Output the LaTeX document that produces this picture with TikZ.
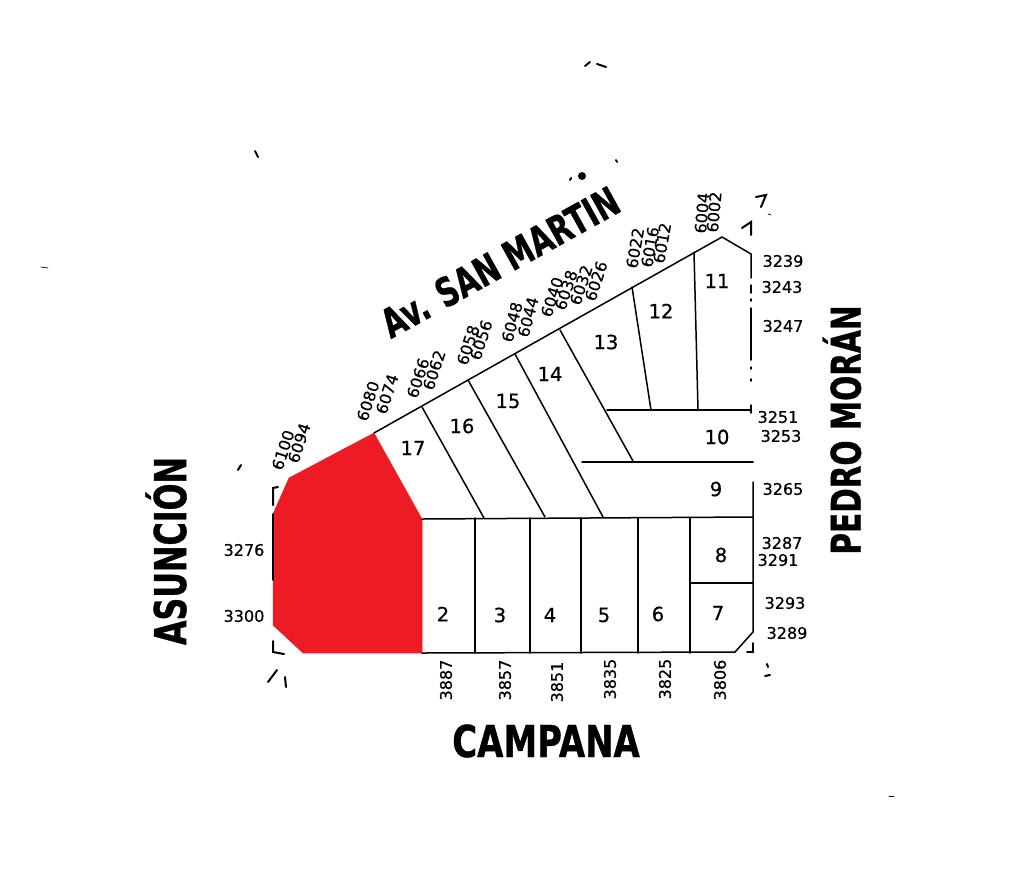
\documentclass[tikz,border=0pt]{standalone}
\usepackage{fontspec}
\setmainfont[FakeBold=.5]{DejaVu Sans}
\newfontfamily\streetfont[FakeStretch=.72,FakeBold=.8]{DejaVu Sans}
\definecolor{lotred}{HTML}{ED1C24}
\tikzset{
  lotline/.style={line width=1.5pt, line cap=round},
  speck/.style={line width=2pt, line cap=round},
  lotnum/.style={font=\fontsize{19.5}{20}\selectfont, inner sep=0pt},
  doornum/.style={font=\fontsize{16}{16}\selectfont, inner sep=0pt},
  street/.style={font=\streetfont\bfseries\fontsize{44}{44}\selectfont, inner sep=0pt},
}

\begin{document}
\begin{tikzpicture}[x=1pt, y=-1pt]
  \useasboundingbox (0,0) rectangle (1030,879);

  % corners of the block
  \coordinate (a) at (273,514);
  \coordinate (b) at (289,478);
  \coordinate (c) at (374,433);
  \coordinate (d) at (422,519);
  \coordinate (e) at (422,653);
  \coordinate (f) at (303,653);
  \coordinate (g) at (273,625);
  \coordinate (peak) at (722,237);
  \coordinate (ne) at (751,254);
  \coordinate (se) at (753,632);
  \coordinate (sc) at (735,652);
  \coordinate (r9) at (753,517);
  \coordinate (top10l) at (607,410);
  \coordinate (top10r) at (751,410);
  \coordinate (top9l) at (582,462);
  \coordinate (top9r) at (753,462);
  \coordinate (mid78l) at (691,583);
  \coordinate (mid78r) at (753,583);

  % lot lines
  \filldraw[fill=lotred, draw=lotred, line width=.5pt] (a) -- (b) -- (c) -- (d) -- (e) -- (f) -- (g) -- cycle;
  \draw[lotline] (a) -- (273,580);
  \draw[lotline] (c) -- (peak) -- (ne) -- (751,278);
  \draw[lotline] (751,285) -- (751,293) (751,299) -- (751,301);
  \draw[lotline] (751,308) -- (751,360);
  \draw[lotline] (751,367) -- (751,369) (751,379) -- (751,381);
  \draw[lotline] (751,405) -- (751,413);
  \draw[lotline] (753,482) -- (se) -- (sc) -- (e);
  \draw[lotline] (d) -- (r9);
  \draw[lotline] (top10l) -- (top10r);
  \draw[lotline] (top9l) -- (top9r);
  \draw[lotline] (mid78l) -- (mid78r);
  \draw[lotline] (422,407) -- (484,518);
  \draw[lotline] (468,380) -- (545,517);
  \draw[lotline] (515,354) -- (603,517);
  \draw[lotline] (560,330) -- (633,461);
  \draw[lotline] (632,287) -- (651,410);
  \draw[lotline] (694,252) -- (698,410);
  \foreach \px in {475,530,581,638,690}
    \draw[lotline] (\px,518) -- (\px,653);

  % lot numbers
  \foreach \px/\py/\txt in {443/614/2, 500/615/3, 550/615/4, 604/615/5, 658/614/6, 718/613/7,
      721/555/8, 716/489/9, 717/437/10, 717/281/11, 661/311/12, 606/342/13, 550/374/14,
      508/401/15, 462/426/16, 413/448/17}
    \node[lotnum] (lot\txt) at (\px,\py) {\txt};

  % door numbers
  \foreach \px/\py/\txt in {783/261/3239, 782/287/3243, 783/326/3247, 778/417/3251, 781/436/3253,
      783/489/3265, 782/543/3287, 778/560/3291, 785/603/3293, 787/633/3289, 244/550/3276, 244/616/3300}
    \node[doornum] (door\txt) at (\px,\py) {\txt};
  \foreach \px/\py/\txt in {446/680/3887, 505/680/3857, 557/682/3851, 610/679/3835, 665/679/3825, 720/680/3806}
    \node[doornum, rotate=90] (door\txt) at (\px,\py) {\txt};
  \foreach \px/\py/\ang/\txt in {283/450/72/6100, 299/443/72/6094, 368/401/72/6080, 387/394/72/6074,
      418/378/72/6066, 434/370/72/6062, 468/345/72/6058, 481/340/72/6056, 512/322/75/6048, 528/317/75/6044,
      552/297/72/6040, 566/290/72/6038, 581/285/72/6032, 596/281/72/6026, 635/248/80/6022, 650/247/80/6016,
      662/243/80/6012, 702/213/85/6004, 714/212/85/6002}
    \node[doornum, rotate=\ang] (door\txt) at (\px,\py) {\txt};

  % street names
  \node[street, xscale=1.07, transform shape] (campana) at (546,741) {CAMPANA};
  \node[street, rotate=90] (asuncion) at (166,551) {ASUNCIÓN};
  \node[street, rotate=90, font=\streetfont\bfseries\fontsize{41}{41}\selectfont] (moran) at (842,430) {PEDRO MORÁN};
  \node[street, rotate=29, font=\streetfont\bfseries\fontsize{40}{40}\selectfont] (sanmartin) at (500,262) {Av. SAN MARTIN};

  % stray marks of the scan
  \fill (582,176) circle (4pt);
  \draw[speck] (742,228) -- (751,222) -- (751,235);
  \draw[speck] (756,197) -- (766,195) -- (761,207);
  \draw[speck] (273,505) -- (273,488) -- (278,487);
  \draw[speck] (273,641) -- (273,652) -- (284,654);
  \draw[speck] (753,643) -- (753,652) -- (747,652);
  \draw[speck] (268,682) -- (277,670);
  \draw[speck] (285,677) -- (286,687);
  \draw[speck] (765,676) -- (770,675);
  \draw[speck] (767,664) -- (768,667);
  \draw[speck] (255,151) -- (258,157);
  \draw[speck] (585,66) -- (590,62);
  \draw[speck] (597,64) -- (606,67);
  \draw[speck] (241,465) -- (238,470);
  \draw[speck] (570,180) -- (571,178);
  \draw[speck] (616,160) -- (617,162);
  \draw[speck, line width=.7pt] (41,267) -- (48,268);
  \draw[speck, line width=.7pt] (889,796) -- (894,796);
  \draw[speck, line width=.7pt] (768,214) -- (771,215);
\end{tikzpicture}
\end{document}
